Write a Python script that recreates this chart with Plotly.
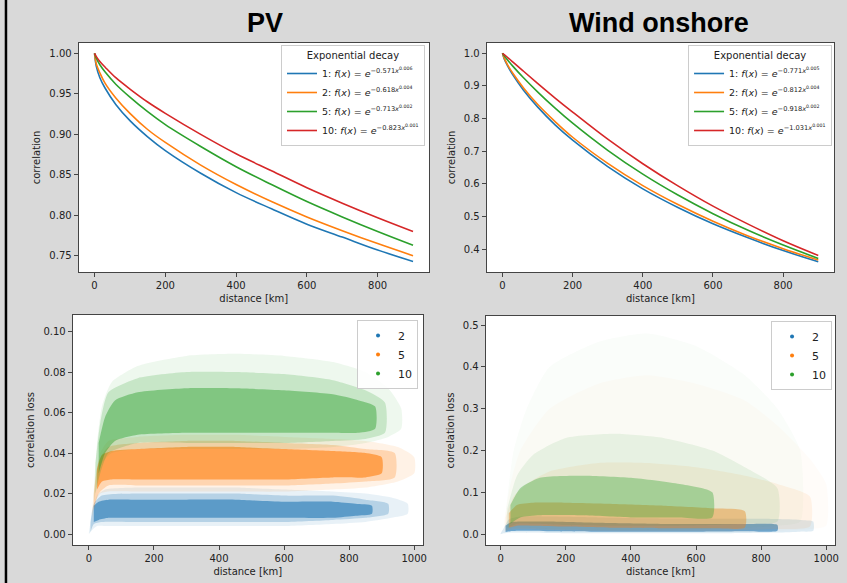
import plotly.graph_objects as go

# ---------------- data: top row (exponential decay fits) ----------------
dist = [0, 5, 15, 30, 60, 100, 150, 200, 300, 400, 500, 600, 700, 800, 900]
groups = ["1", "2", "5", "10"]
colors = ["#1f77b4", "#ff7f0e", "#2ca02c", "#d62728"]

pv_corr = {
    "1":  [1.0, 0.984, 0.970, 0.957, 0.937, 0.917, 0.897, 0.880, 0.852, 0.828, 0.808, 0.789, 0.773, 0.757, 0.743],
    "2":  [1.0, 0.987, 0.976, 0.963, 0.945, 0.926, 0.906, 0.890, 0.862, 0.838, 0.817, 0.798, 0.781, 0.765, 0.750],
    "5":  [1.0, 0.994, 0.986, 0.977, 0.962, 0.946, 0.928, 0.912, 0.885, 0.860, 0.838, 0.817, 0.798, 0.780, 0.763],
    "10": [1.0, 0.996, 0.990, 0.983, 0.970, 0.956, 0.940, 0.926, 0.900, 0.876, 0.855, 0.834, 0.815, 0.797, 0.780],
}
wind_corr = {
    "1":  [1.0, 0.983, 0.961, 0.933, 0.887, 0.836, 0.781, 0.734, 0.653, 0.585, 0.528, 0.478, 0.435, 0.396, 0.362],
    "2":  [1.0, 0.985, 0.964, 0.938, 0.894, 0.844, 0.791, 0.743, 0.663, 0.595, 0.537, 0.486, 0.441, 0.402, 0.367],
    "5":  [1.0, 0.9925, 0.979, 0.960, 0.925, 0.882, 0.832, 0.786, 0.703, 0.630, 0.566, 0.509, 0.458, 0.413, 0.372],
    "10": [1.0, 0.996, 0.987, 0.973, 0.945, 0.908, 0.863, 0.820, 0.737, 0.662, 0.594, 0.532, 0.477, 0.426, 0.381],
}
pv_labels = {
    "1": "1: <i>f</i>(<i>x</i>) = <i>e</i><sup>−0.571<i>x</i><sup>0.006</sup></sup>",
    "2": "2: <i>f</i>(<i>x</i>) = <i>e</i><sup>−0.618<i>x</i><sup>0.004</sup></sup>",
    "5": "5: <i>f</i>(<i>x</i>) = <i>e</i><sup>−0.713<i>x</i><sup>0.002</sup></sup>",
    "10": "10: <i>f</i>(<i>x</i>) = <i>e</i><sup>−0.823<i>x</i><sup>0.001</sup></sup>",
}
wind_labels = {
    "1": "1: <i>f</i>(<i>x</i>) = <i>e</i><sup>−0.771<i>x</i><sup>0.005</sup></sup>",
    "2": "2: <i>f</i>(<i>x</i>) = <i>e</i><sup>−0.812<i>x</i><sup>0.004</sup></sup>",
    "5": "5: <i>f</i>(<i>x</i>) = <i>e</i><sup>−0.918<i>x</i><sup>0.002</sup></sup>",
    "10": "10: <i>f</i>(<i>x</i>) = <i>e</i><sup>−1.031<i>x</i><sup>0.001</sup></sup>",
}

# ---------------- data: bottom row (correlation-loss point clouds, read as envelopes) ----------------
loss_groups = ["2", "5", "10"]
loss_colors = {"2": (31, 119, 180), "5": (255, 127, 14), "10": (44, 160, 44)}

# each layer = (x, lower, upper, opacity)
pv_bands = {
    "2": [
        ([0, 10, 25, 50, 150, 300, 450, 600, 750, 850, 930, 980],
         [0.000, 0.002, 0.004, 0.004, 0.004, 0.004, 0.004, 0.004, 0.005, 0.006, 0.008, 0.010],
         [0.001, 0.010, 0.019, 0.022, 0.023, 0.023, 0.023, 0.022, 0.021, 0.020, 0.018, 0.015], 0.10),
        ([5, 15, 40, 150, 300, 450, 600, 750, 850, 920],
         [0.001, 0.005, 0.006, 0.006, 0.006, 0.006, 0.006, 0.007, 0.008, 0.010],
         [0.006, 0.015, 0.019, 0.020, 0.020, 0.020, 0.019, 0.019, 0.017, 0.015], 0.25),
        ([15, 30, 60, 150, 300, 450, 600, 750, 820, 870],
         [0.006, 0.007, 0.008, 0.008, 0.008, 0.008, 0.008, 0.008, 0.009, 0.010],
         [0.014, 0.016, 0.017, 0.017, 0.017, 0.017, 0.016, 0.016, 0.015, 0.014], 0.6),
    ],
    "5": [
        ([10, 20, 35, 60, 150, 300, 450, 600, 750, 850, 950, 1000],
         [0.008, 0.016, 0.020, 0.021, 0.021, 0.021, 0.021, 0.021, 0.022, 0.023, 0.026, 0.030],
         [0.012, 0.028, 0.040, 0.046, 0.048, 0.049, 0.049, 0.048, 0.047, 0.046, 0.043, 0.038], 0.10),
        ([15, 30, 60, 150, 300, 450, 600, 750, 850, 940],
         [0.012, 0.020, 0.024, 0.024, 0.024, 0.024, 0.024, 0.025, 0.026, 0.028],
         [0.020, 0.036, 0.043, 0.045, 0.046, 0.046, 0.045, 0.044, 0.042, 0.040], 0.25),
        ([25, 40, 70, 150, 300, 450, 600, 750, 850, 900],
         [0.022, 0.026, 0.027, 0.027, 0.027, 0.027, 0.027, 0.028, 0.028, 0.030],
         [0.032, 0.039, 0.041, 0.042, 0.043, 0.043, 0.042, 0.041, 0.040, 0.038], 0.6),
    ],
    "10": [
        ([15, 25, 40, 70, 150, 300, 450, 600, 750, 850, 920, 960],
         [0.015, 0.025, 0.035, 0.040, 0.042, 0.042, 0.042, 0.042, 0.043, 0.045, 0.048, 0.052],
         [0.022, 0.045, 0.063, 0.075, 0.083, 0.088, 0.089, 0.088, 0.085, 0.080, 0.072, 0.062], 0.08),
        ([20, 35, 60, 150, 300, 450, 600, 750, 850, 910],
         [0.020, 0.030, 0.040, 0.045, 0.045, 0.045, 0.045, 0.046, 0.047, 0.050],
         [0.035, 0.055, 0.070, 0.077, 0.080, 0.080, 0.079, 0.076, 0.071, 0.065], 0.2),
        ([30, 50, 80, 150, 300, 450, 600, 750, 830, 880],
         [0.030, 0.040, 0.046, 0.049, 0.050, 0.050, 0.050, 0.050, 0.050, 0.052],
         [0.045, 0.058, 0.066, 0.070, 0.072, 0.072, 0.071, 0.069, 0.066, 0.063], 0.45),
    ],
}

wind_bands = {
    "2": [
        ([0, 10, 25, 60, 150, 300, 450, 600, 750, 850, 920, 960],
         [0.000, 0.002, 0.004, 0.004, 0.003, 0.002, 0.002, 0.002, 0.003, 0.004, 0.006, 0.008],
         [0.002, 0.015, 0.035, 0.042, 0.042, 0.040, 0.038, 0.037, 0.037, 0.036, 0.034, 0.030], 0.14),
        ([15, 30, 60, 150, 300, 450, 600, 750, 850],
         [0.005, 0.007, 0.008, 0.007, 0.006, 0.006, 0.006, 0.007, 0.008],
         [0.020, 0.028, 0.030, 0.030, 0.027, 0.025, 0.024, 0.024, 0.022], 0.6),
    ],
    "5": [
        ([10, 30, 60, 150, 300, 450, 600, 750, 850, 950, 1000],
         [0.005, 0.010, 0.010, 0.008, 0.006, 0.005, 0.005, 0.006, 0.008, 0.012, 0.020],
         [0.030, 0.120, 0.200, 0.300, 0.360, 0.380, 0.360, 0.320, 0.260, 0.180, 0.120], 0.025),
        ([15, 40, 80, 150, 300, 450, 600, 750, 850, 950],
         [0.008, 0.012, 0.012, 0.010, 0.008, 0.008, 0.008, 0.010, 0.012, 0.018],
         [0.040, 0.090, 0.120, 0.150, 0.170, 0.170, 0.160, 0.140, 0.120, 0.090], 0.08),
        ([25, 50, 100, 200, 350, 500, 650, 750],
         [0.015, 0.020, 0.020, 0.018, 0.015, 0.014, 0.014, 0.016],
         [0.050, 0.070, 0.075, 0.075, 0.072, 0.068, 0.062, 0.055], 0.40),
    ],
    "10": [
        ([15, 40, 80, 150, 300, 450, 600, 750, 850, 920],
         [0.010, 0.015, 0.015, 0.012, 0.010, 0.010, 0.012, 0.015, 0.020, 0.030],
         [0.050, 0.200, 0.300, 0.400, 0.460, 0.480, 0.450, 0.380, 0.300, 0.200], 0.025),
        ([20, 50, 100, 200, 350, 500, 650, 750, 850],
         [0.015, 0.025, 0.025, 0.022, 0.020, 0.020, 0.022, 0.025, 0.030],
         [0.060, 0.140, 0.190, 0.230, 0.240, 0.230, 0.200, 0.160, 0.110], 0.09),
        ([30, 60, 120, 250, 400, 550, 650],
         [0.025, 0.040, 0.045, 0.045, 0.040, 0.040, 0.040],
         [0.070, 0.110, 0.135, 0.140, 0.135, 0.120, 0.100], 0.35),
    ],
}

# ---------------- figure ----------------
W, H = 847, 583
fig = go.Figure()
FONT = "DejaVu Sans"


def px_x(a, b):
    return [a / W, b / W]


def px_y(top, bottom):
    return [1 - bottom / H, 1 - top / H]


for g, c in zip(groups, colors):
    fig.add_trace(go.Scatter(x=dist, y=pv_corr[g], mode="lines", line=dict(color=c, width=1.6, shape="spline"),
                             name=pv_labels[g], xaxis="x", yaxis="y", legend="legend"))
for g, c in zip(groups, colors):
    fig.add_trace(go.Scatter(x=dist, y=wind_corr[g], mode="lines", line=dict(color=c, width=1.6, shape="spline"),
                             name=wind_labels[g], xaxis="x2", yaxis="y2", legend="legend2"))


def add_bands(bands, xa, ya, leg):
    for g in loss_groups:
        r, gg, b = loss_colors[g]
        for (xs, lo, up, op) in bands[g]:
            fig.add_trace(go.Scatter(
                x=list(xs) + list(xs)[::-1], y=list(up) + list(lo)[::-1],
                fill="toself", mode="lines", line=dict(width=0, shape="spline", smoothing=0.6),
                fillcolor=f"rgba({r},{gg},{b},{op})", hoverinfo="skip", showlegend=False,
                xaxis=xa, yaxis=ya))
    for g in loss_groups:
        r, gg, b = loss_colors[g]
        fig.add_trace(go.Scatter(x=[None], y=[None], mode="markers", name=g,
                                 marker=dict(color=f"rgb({r},{gg},{b})", size=4),
                                 xaxis=xa, yaxis=ya, legend=leg))


add_bands(pv_bands, "x3", "y3", "legend3")
add_bands(wind_bands, "x4", "y4", "legend4")

axis_common = dict(showline=True, mirror=True, linecolor="#444", linewidth=1, ticks="outside",
                   ticklen=4, tickcolor="#444", showgrid=False, zeroline=False,
                   tickfont=dict(family=FONT, size=10, color="#222"))
xtitle = dict(text="distance [km]", font=dict(family=FONT, size=10, color="#222"), standoff=4)


def ytitle(t):
    return dict(text=t, font=dict(family=FONT, size=10, color="#222"), standoff=6)


fig.update_layout(
    width=W, height=H, margin=dict(l=0, r=0, t=0, b=0),
    paper_bgcolor="#d9d9d9", plot_bgcolor="white",
    font=dict(family=FONT, size=10, color="#222"),
    xaxis=dict(domain=px_x(79, 431), range=[-45, 945], tickvals=[0, 200, 400, 600, 800],
               anchor="y", title=xtitle, **axis_common),
    yaxis=dict(domain=px_y(43, 272), range=[0.7299, 1.0129], tickvals=[0.75, 0.80, 0.85, 0.90, 0.95, 1.00],
               tickformat=".2f", anchor="x", title=ytitle("correlation"), **axis_common),
    xaxis2=dict(domain=px_x(489, 838), range=[-45, 945], tickvals=[0, 200, 400, 600, 800],
                anchor="y2", title=xtitle, **axis_common),
    yaxis2=dict(domain=px_y(43, 272), range=[0.3305, 1.0315], tickvals=[0.4, 0.5, 0.6, 0.7, 0.8, 0.9, 1.0],
                tickformat=".1f", anchor="x2", title=ytitle("correlation"), **axis_common),
    xaxis3=dict(domain=px_x(73, 425), range=[-50, 1027], tickvals=[0, 200, 400, 600, 800, 1000],
                anchor="y3", title=xtitle, **axis_common),
    yaxis3=dict(domain=px_y(315, 545), range=[-0.0054, 0.1082], tickvals=[0, 0.02, 0.04, 0.06, 0.08, 0.10],
                tickformat=".2f", anchor="x3", title=ytitle("correlation loss"), **axis_common),
    xaxis4=dict(domain=px_x(488, 839), range=[-46, 1027], tickvals=[0, 200, 400, 600, 800, 1000],
                anchor="y4", title=xtitle, **axis_common),
    yaxis4=dict(domain=px_y(316, 545), range=[-0.026, 0.522], tickvals=[0, 0.1, 0.2, 0.3, 0.4, 0.5],
                tickformat=".1f", anchor="x4", title=ytitle("correlation loss"), **axis_common),
)

leg_common = dict(bgcolor="rgba(255,255,255,0.85)", bordercolor="#cccccc", borderwidth=1,
                  tracegroupgap=0, itemwidth=30)
fig.update_layout(
    legend=dict(x=427 / W, y=1 - 45 / H, xanchor="right", yanchor="top",
                font=dict(family=FONT, size=9.5, color="#222"),
                title=dict(text="Exponential decay", side="top center", font=dict(family=FONT, size=10)),
                **leg_common),
    legend2=dict(x=836 / W, y=1 - 45 / H, xanchor="right", yanchor="top",
                 font=dict(family=FONT, size=9.5, color="#222"),
                 title=dict(text="Exponential decay", side="top center", font=dict(family=FONT, size=10)),
                 **leg_common),
    legend3=dict(x=420 / W, y=1 - 320 / H, xanchor="right", yanchor="top",
                 font=dict(family=FONT, size=11, color="#222"), **leg_common),
    legend4=dict(x=836 / W, y=1 - 321 / H, xanchor="right", yanchor="top",
                 font=dict(family=FONT, size=11, color="#222"), **leg_common),
)

fig.add_annotation(text="<b>PV</b>", x=266 / W, y=1 - 23 / H, xref="paper", yref="paper",
                   xanchor="center", yanchor="middle",
                   showarrow=False, font=dict(family="Liberation Sans", size=27, color="black"))
fig.add_annotation(text="<b>Wind onshore</b>", x=662 / W, y=1 - 23 / H, xref="paper", yref="paper",
                   xanchor="center", yanchor="middle",
                   showarrow=False, font=dict(family="Liberation Sans", size=27, color="black"))
fig.add_shape(type="line", xref="paper", yref="paper", x0=6 / W, x1=6 / W, y0=0, y1=1,
              line=dict(color="black", width=2.5))

fig.write_html("out.html", config={"displayModeBar": False},
               post_script="document.body.style.margin='0';document.body.style.overflow='hidden';")
